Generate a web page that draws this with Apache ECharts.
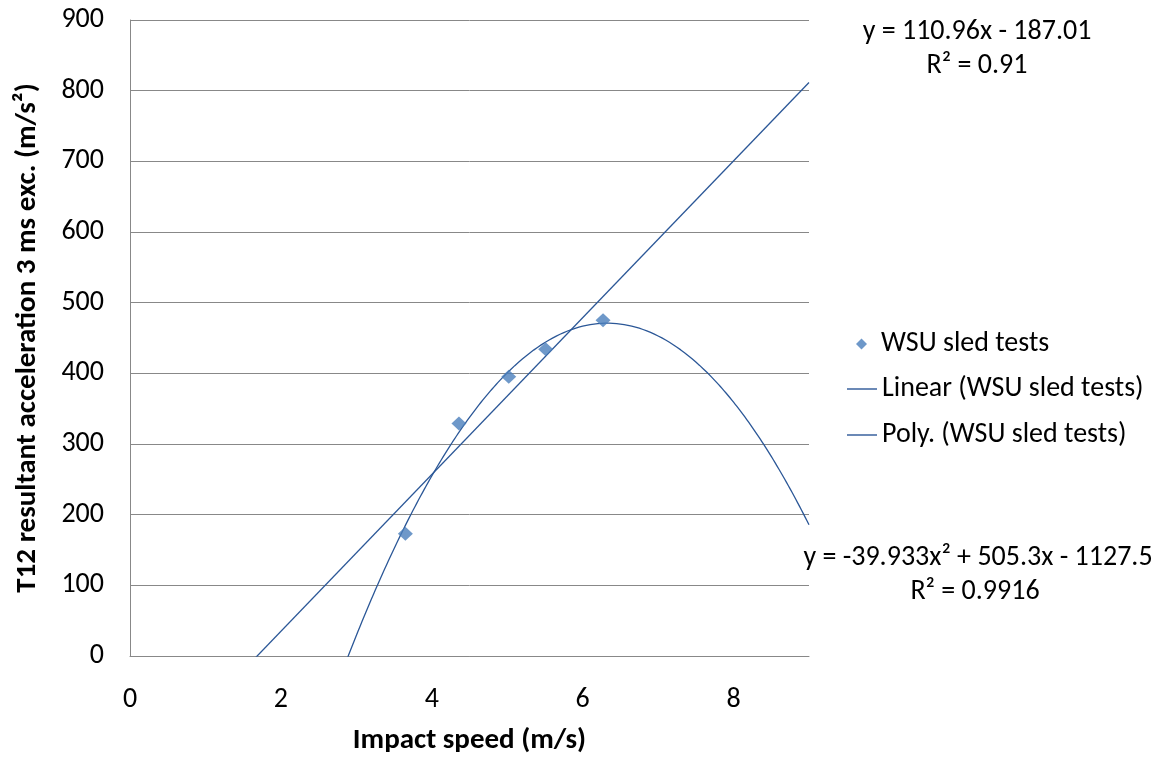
<!DOCTYPE html>
<html>
<head>
<meta charset="utf-8">
<style>
  html, body { margin: 0; padding: 0; background: #ffffff; }
  #chart { width: 1172px; height: 760px; }
</style>
<script src="https://cdn.jsdelivr.net/npm/echarts@6/dist/echarts.min.js"></script>
</head>
<body>
<div id="chart"></div>
<script>
// Sled test measurements: impact speed (m/s) vs T12 acceleration (m/s²)
const speeds = [3.65, 4.36, 5.02, 5.51, 6.27];
const accelerations = [173, 329, 395, 434, 475];

// Fitted trendline coefficients, as printed on the chart
const linearCoef = [110.96, -187.01];          // slope, intercept
const polyCoef = [-39.933, 505.3, -1127.5];     // a, b, c
const linearLabel = ['y = 110.96x - 187.01', 'R² = 0.91'];
const polyLabel = ['y = -39.933x² + 505.3x - 1127.5', 'R² = 0.9916'];

const xTicks = [0, 2, 4, 6, 8];
const yTicks = [0, 100, 200, 300, 400, 500, 600, 700, 800, 900];

const seriesName = 'WSU sled tests';
const linearName = 'Linear (' + seriesName + ')';
const polyName = 'Poly. (' + seriesName + ')';
const FONT = 'Carlito, Calibri, "Noto Sans", sans-serif';

// Trendlines evaluated across the x-axis range
const xMin = 0, xMax = 9;
const linearLine = [xMin, xMax].map(x => [x, linearCoef[0] * x + linearCoef[1]]);
const polyLine = [];
for (let i = 0; i <= 360; i++) {
  const x = xMin + (xMax - xMin) * i / 360;
  polyLine.push([x, polyCoef[0] * x * x + polyCoef[1] * x + polyCoef[2]]);
}

const chart = echarts.init(document.getElementById('chart'), null, { renderer: 'canvas' });

const trendColor = '#2b5797';
const markerColor = '#4a7ebb';
const gridColor = '#888888';
const FS = 28;

const legendText = { fontFamily: FONT, fontSize: FS, color: '#000', lineHeight: 32 };

chart.setOption({
  animation: false,
  backgroundColor: '#ffffff',
  textStyle: { fontFamily: FONT },
  grid: { left: 130, right: 363, top: 20, bottom: 99, containLabel: false },
  xAxis: {
    type: 'value',
    min: xMin, max: xMax, interval: 2,
    name: 'Impact speed (m/s)',
    nameLocation: 'middle',
    nameGap: 70,
    nameTextStyle: { fontFamily: FONT, fontSize: 29, fontWeight: 'bold', color: '#000' },
    axisLine: { show: true, lineStyle: { color: gridColor, width: 1 } },
    axisTick: { show: false },
    splitLine: { show: false },
    axisLabel: {
      fontFamily: FONT, fontSize: FS, color: '#000', margin: 30,
      formatter: v => (xTicks.indexOf(v) >= 0 ? String(v) : '')
    }
  },
  yAxis: {
    type: 'value',
    min: 0, max: 900, interval: 100,
    name: 'T12 resultant acceleration 3 ms exc. (m/s²)',
    nameLocation: 'middle',
    nameGap: 88,
    nameTextStyle: { fontFamily: FONT, fontSize: 29, fontWeight: 'bold', color: '#000' },
    axisLine: { show: true, lineStyle: { color: gridColor, width: 1 } },
    axisTick: { show: false },
    splitLine: { show: true, lineStyle: { color: gridColor, width: 1 } },
    axisLabel: {
      fontFamily: FONT, fontSize: FS, color: '#000', margin: 26,
      padding: [5, 0, 0, 0],
      formatter: v => (yTicks.indexOf(v) >= 0 ? String(v) : '')
    }
  },
  legend: [
    {
      orient: 'vertical',
      left: 856,
      top: 328,
      padding: 0,
      itemWidth: 11,
      itemHeight: 11,
      itemGap: 14,
      itemTextGap: 6,
      textStyle: Object.assign({ padding: [0, 0, 0, 9] }, legendText),
      data: [{ name: seriesName, icon: 'diamond' }]
    },
    {
      orient: 'vertical',
      left: 847,
      top: 373,
      padding: 0,
      itemWidth: 30,
      itemHeight: 1.4,
      itemGap: 14,
      itemTextGap: 5,
      textStyle: legendText,
      data: [
        { name: linearName, icon: 'rect' },
        { name: polyName, icon: 'rect' }
      ]
    }
  ],
  series: [
    {
      name: linearName,
      type: 'line',
      data: linearLine,
      showSymbol: false,
      symbol: 'none',
      clip: true,
      lineStyle: { color: trendColor, width: 1.3 },
      itemStyle: { color: trendColor },
      z: 2
    },
    {
      name: polyName,
      type: 'line',
      data: polyLine,
      showSymbol: false,
      symbol: 'none',
      clip: true,
      lineStyle: { color: trendColor, width: 1.3 },
      itemStyle: { color: trendColor },
      z: 2
    },
    {
      name: seriesName,
      type: 'scatter',
      symbol: 'diamond',
      symbolSize: [15, 14],
      data: speeds.map((x, i) => [x, accelerations[i]]),
      itemStyle: { color: markerColor },
      z: 3
    }
  ]
});

// Trendline equation labels
const eqStyle = { fontFamily: FONT, fontSize: FS, fill: '#000', textAlign: 'center', textVerticalAlign: 'middle' };
chart.setOption({
  graphic: [
    { type: 'text', x: 977, y: 32, style: Object.assign({ text: linearLabel[0] }, eqStyle) },
    { type: 'text', x: 977, y: 66, style: Object.assign({ text: linearLabel[1] }, eqStyle) },
    { type: 'text', x: 978, y: 558, style: Object.assign({ text: polyLabel[0] }, eqStyle) },
    { type: 'text', x: 975, y: 592, style: Object.assign({ text: polyLabel[1] }, eqStyle) }
  ]
});
</script>
</body>
</html>
